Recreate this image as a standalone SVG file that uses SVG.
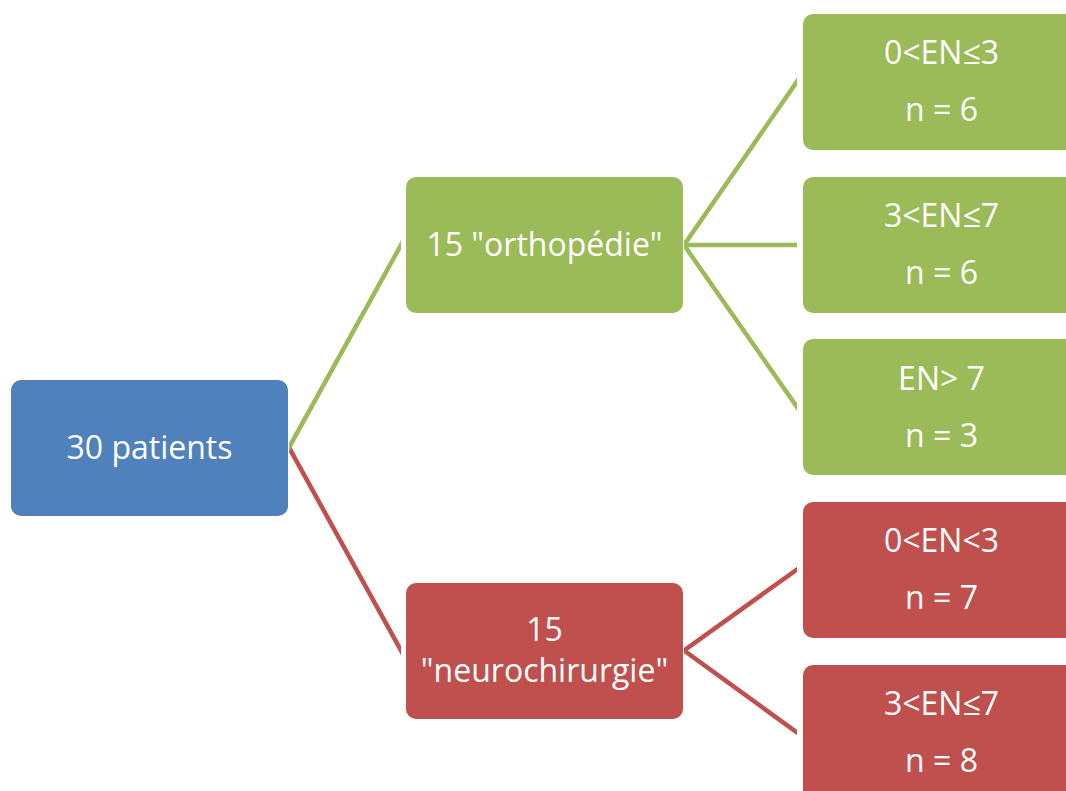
<svg xmlns="http://www.w3.org/2000/svg" width="1066" height="791" viewBox="0 0 1066 791">
  <style>
    .t { font-family: "Open Sans", "DejaVu Sans", sans-serif; font-size: 32px; fill: #ffffff; text-anchor: middle; }
    .blue { fill: #4F81BD; }
    .green { fill: #9BBB59; }
    .red { fill: #C0504D; }
    .lg { stroke: #9BBB59; stroke-width: 4.5; fill: none; }
    .lr { stroke: #C0504D; stroke-width: 4.5; fill: none; }
  </style>
  <defs>
    <clipPath id="gap">
      <rect x="289" y="0" width="112" height="791"/>
      <rect x="684" y="0" width="113" height="791"/>
    </clipPath>
  </defs>
  <rect width="1066" height="791" fill="#ffffff"/>
  <g id="connectors" clip-path="url(#gap)">
    <line class="lr" x1="279" y1="429.4" x2="411" y2="668.6"/>
    <line class="lg" x1="279" y1="465.6" x2="411" y2="226.9"/>
    <line class="lg" x1="674" y1="259.5" x2="807" y2="67.0"/>
    <line class="lg" x1="674" y1="245" x2="807" y2="245"/>
    <line class="lg" x1="674" y1="230.7" x2="807" y2="421.3"/>
    <line class="lr" x1="674" y1="657.7" x2="807" y2="562.3"/>
    <line class="lr" x1="674" y1="643.2" x2="807" y2="739.8"/>
  </g>
  <g id="root">
    <rect class="blue" x="11" y="380" width="277" height="136" rx="10"/>
    <text class="t" x="149.5" y="459">30 patients</text>
  </g>
  <g id="orthopedie">
    <rect class="green" x="406" y="177" width="277" height="136" rx="10"/>
    <text class="t" x="544.5" y="256">15 "orthopédie"</text>
  </g>
  <g id="neurochirurgie">
    <rect class="red" x="406" y="583" width="277" height="136" rx="10"/>
    <text class="t" x="544.5" y="641">15</text>
    <text class="t" x="544.5" y="682">"neurochirurgie"</text>
  </g>
  <g id="ortho-1">
    <rect class="green" x="803" y="14" width="277" height="136" rx="10"/>
    <text class="t" x="941.5" y="64">0&lt;EN≤3</text>
    <text class="t" x="941.5" y="121">n = 6</text>
  </g>
  <g id="ortho-2">
    <rect class="green" x="803" y="177" width="277" height="136" rx="10"/>
    <text class="t" x="941.5" y="227">3&lt;EN≤7</text>
    <text class="t" x="941.5" y="284">n = 6</text>
  </g>
  <g id="ortho-3">
    <rect class="green" x="803" y="339" width="277" height="136" rx="10"/>
    <text class="t" x="941.5" y="389.5">EN&gt; 7</text>
    <text class="t" x="941.5" y="446.5">n = 3</text>
  </g>
  <g id="neuro-1">
    <rect class="red" x="803" y="502" width="277" height="136" rx="10"/>
    <text class="t" x="941.5" y="552">0&lt;EN&lt;3</text>
    <text class="t" x="941.5" y="609">n = 7</text>
  </g>
  <g id="neuro-2">
    <rect class="red" x="803" y="665" width="277" height="136" rx="10"/>
    <text class="t" x="941.5" y="715">3&lt;EN≤7</text>
    <text class="t" x="941.5" y="772">n = 8</text>
  </g>
</svg>
